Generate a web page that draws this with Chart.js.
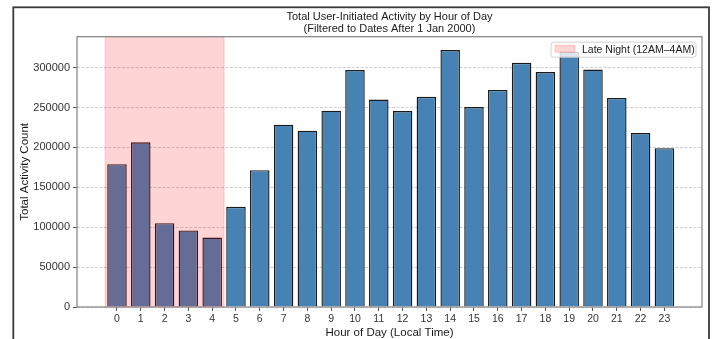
<!DOCTYPE html>
<html>
<head>
<meta charset="utf-8">
<script src="https://cdn.jsdelivr.net/npm/chart.js@4.4.1/dist/chart.umd.min.js"></script>
<style>
html,body{margin:0;padding:0;background:#fff;}
#wrap{width:716px;height:339px;position:relative;overflow:hidden;}
</style>
</head>
<body>
<div id="wrap"><canvas id="c" width="716" height="339"></canvas></div>
<script>
// ---- data ----
const hours = [0,1,2,3,4,5,6,7,8,9,10,11,12,13,14,15,16,17,18,19,20,21,22,23];
const hourLabels = ['0','1','2','3','4','5','6','7','8','9','10','11','12','13','14','15','16','17','18','19','20','21','22','23'];
const activity = [179000,206500,105000,96000,87000,125500,171500,228500,221000,246000,
                  297000,260000,245500,263500,322000,250500,272000,306000,294500,320000,
                  297500,262000,218000,199000];
const yTicks = [0,50000,100000,150000,200000,250000,300000];
const lateNightSpan = [-0.5, 4.5];
const legendLabel = 'Late Night (12AM\u20134AM)';
const titleLines = ['Total User-Initiated Activity by Hour of Day', '(Filtered to Dates After 1 Jan 2000)'];
const xTitle = 'Hour of Day (Local Time)';
const yTitle = 'Total Activity Count';

const FONT = "'Liberation Sans', Arial, Helvetica, sans-serif";
const SPAN_FILL = 'rgba(255,0,0,0.17)';

const decorPlugin = {
  id: 'decor',
  beforeDraw(chart) {
    const ctx = chart.ctx;
    ctx.save();
    ctx.fillStyle = '#ffffff';
    ctx.fillRect(0, 0, chart.width, chart.height);
    ctx.restore();
  },
  afterDatasetsDraw(chart) {
    const {ctx, chartArea, scales} = chart;
    const x0 = scales.x.getPixelForValue(lateNightSpan[0]);
    const x1 = scales.x.getPixelForValue(lateNightSpan[1]);
    ctx.save();
    ctx.fillStyle = SPAN_FILL;
    ctx.fillRect(x0, chartArea.top, x1 - x0, chartArea.bottom - chartArea.top);
    ctx.strokeStyle = SPAN_FILL;
    ctx.lineWidth = 1;
    ctx.strokeRect(x0, chartArea.top, x1 - x0, chartArea.bottom - chartArea.top);
    ctx.restore();
  },
  afterDraw(chart) {
    const {ctx, chartArea} = chart;
    ctx.save();
    // title, centred over the plot area
    const cx = (chartArea.left + chartArea.right) / 2;
    ctx.fillStyle = '#1a1a1a';
    ctx.font = '11px ' + FONT;
    ctx.textAlign = 'center';
    ctx.textBaseline = 'middle';
    ctx.fillText(titleLines[0], cx, 17);
    ctx.fillText(titleLines[1], cx, 29);
    // plot frame (spines)
    ctx.strokeStyle = '#8c8c8c';
    ctx.lineWidth = 1.3;
    ctx.strokeRect(chartArea.left, chartArea.top, chartArea.right - chartArea.left, chartArea.bottom - chartArea.top);
    // legend
    const lw = 145, lh = 15;
    const lx = chartArea.right - 6 - lw, ly = chartArea.top + 5.5;
    ctx.beginPath();
    if (ctx.roundRect) ctx.roundRect(lx, ly, lw, lh, 2.5); else ctx.rect(lx, ly, lw, lh);
    ctx.fillStyle = 'rgba(255,255,255,0.8)';
    ctx.fill();
    ctx.strokeStyle = 'rgba(204,204,204,0.9)';
    ctx.lineWidth = 1;
    ctx.stroke();
    ctx.fillStyle = SPAN_FILL;
    ctx.fillRect(lx + 4, ly + 3, 20, 7);
    ctx.strokeStyle = SPAN_FILL;
    ctx.strokeRect(lx + 4, ly + 3, 20, 7);
    ctx.fillStyle = '#1a1a1a';
    ctx.font = '10.5px ' + FONT;
    ctx.textBaseline = 'middle';
    ctx.textAlign = 'left';
    ctx.fillText(legendLabel, lx + 31, ly + lh / 2 + 0.5);
    // outer figure frame
    ctx.strokeStyle = '#3a3a3a';
    ctx.lineWidth = 1.8;
    ctx.strokeRect(13.3, 7.3, 709 - 13.3, 400);
    ctx.restore();
  }
};

new Chart(document.getElementById('c'), {
  type: 'bar',
  data: {
    datasets: [{
      data: hours.map((h, i) => ({x: h, y: activity[i]})),
      backgroundColor: '#4682b4',
      borderColor: '#1a1a1a',
      borderWidth: 1.4,
      barPercentage: 0.82,
      categoryPercentage: 1.0
    }]
  },
  options: {
    responsive: false,
    animation: false,
    devicePixelRatio: 1,
    layout: {padding: {top: 36.7, left: 13, right: 14, bottom: 0}},
    plugins: {
      legend: {display: false},
      tooltip: {enabled: false},
      title: {display: false}
    },
    scales: {
      x: {
        type: 'linear',
        min: -1.68,
        max: 24.58,
        offset: false,
        afterBuildTicks: s => { s.ticks = hours.map(v => ({value: v})); },
        afterFit: s => { s.height = 32; },
        ticks: {
          autoSkip: false,
          maxRotation: 0,
          color: '#333',
          font: {family: FONT, size: 10.5},
          padding: 2,
          callback: v => { const i = hours.indexOf(v); return i >= 0 ? hourLabels[i] : ''; }
        },
        grid: {offset: false, drawOnChartArea: false, drawTicks: true, tickLength: 4, tickColor: '#555', tickWidth: 1, tickBorderDash: [1, 0]},
        border: {display: false},
        title: {display: true, text: xTitle, color: '#1a1a1a', font: {family: FONT, size: 11.5, lineHeight: 1}, padding: {top: 0, bottom: 0}}
      },
      y: {
        min: 0,
        max: 338750,
        afterBuildTicks: s => { s.ticks = yTicks.map(v => ({value: v})); },
        afterFit: s => { s.width = 64; },
        ticks: {
          color: '#333',
          font: {family: FONT, size: 11},
          padding: 3,
          callback: v => String(v)
        },
        grid: {color: 'rgba(175,175,175,0.75)', lineWidth: 0.8, drawTicks: true, tickLength: 4, tickColor: '#555', tickWidth: 1, tickBorderDash: [1, 0]},
        border: {display: false, dash: [3, 1.5]},
        title: {display: true, text: yTitle, color: '#1a1a1a', font: {family: FONT, size: 11.5, lineHeight: 1}, padding: {top: 6, bottom: 0}}
      }
    }
  },
  plugins: [decorPlugin]
});
</script>
</body>
</html>
